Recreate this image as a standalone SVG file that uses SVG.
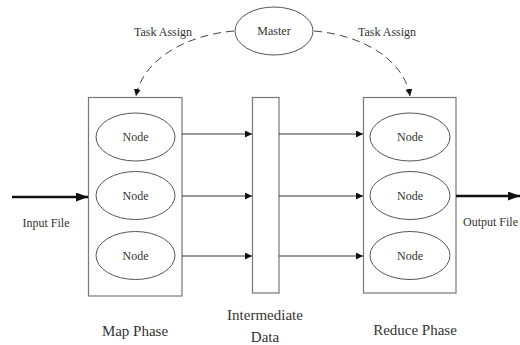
<svg xmlns="http://www.w3.org/2000/svg" width="520" height="345" viewBox="0 0 520 345">
  <defs>
    <style>
      .box { fill: #fff; stroke: #777; stroke-width: 1.2; }
      .ell { fill: #fff; stroke: #555; stroke-width: 1; }
      .t { font-family: "Liberation Serif", "Times New Roman", serif; fill: #333; text-anchor: middle; dominant-baseline: central; }
      .sm { font-size: 12px; }
      .lg { font-size: 15px; }
      .thin { stroke: #333; stroke-width: 1; fill: none; }
      .thick { stroke: #111; stroke-width: 2.6; fill: none; }
      .dash { stroke: #444; stroke-width: 1; fill: none; stroke-dasharray: 8 5; }
    </style>
    <marker id="ah" viewBox="0 0 10 10" refX="10" refY="5" markerWidth="7" markerHeight="7" markerUnits="userSpaceOnUse" orient="auto">
      <path d="M0,0 L10,5 L0,10 Z" fill="#111"/>
    </marker>
    <marker id="ahBig" viewBox="0 0 10 10" refX="10" refY="5" markerWidth="12" markerHeight="9" markerUnits="userSpaceOnUse" orient="auto" preserveAspectRatio="none">
      <path d="M0,0 L10,5 L0,10 Z" fill="#111"/>
    </marker>
  </defs>

  <rect width="520" height="345" fill="#fff"/>

  <!-- phase containers -->
  <g id="map-phase">
    <rect class="box" x="88.5" y="97.5" width="93.5" height="198.5"/>
    <text class="t lg" x="135" y="331">Map Phase</text>
  </g>
  <g id="intermediate-data">
    <rect class="box" x="252.5" y="97.5" width="26.5" height="195.5"/>
    <text class="t lg" x="265" y="315">Intermediate</text>
    <text class="t lg" x="265" y="337">Data</text>
  </g>
  <g id="reduce-phase">
    <rect class="box" x="363.5" y="97.5" width="92.5" height="195.5"/>
    <text class="t lg" x="415" y="330">Reduce Phase</text>
  </g>

  <!-- master -->
  <g id="master">
    <ellipse class="ell" cx="274" cy="31" rx="39" ry="24"/>
    <text class="t sm" x="274" y="31">Master</text>
  </g>

  <!-- map workers -->
  <g id="map-node-1">
    <ellipse class="ell" cx="135.5" cy="137" rx="39.5" ry="24"/>
    <text class="t sm" x="135.5" y="137">Node</text>
  </g>
  <g id="map-node-2">
    <ellipse class="ell" cx="135.5" cy="195.5" rx="39.5" ry="24"/>
    <text class="t sm" x="135.5" y="195.5">Node</text>
  </g>
  <g id="map-node-3">
    <ellipse class="ell" cx="135.5" cy="255.5" rx="39.5" ry="24"/>
    <text class="t sm" x="135.5" y="255.5">Node</text>
  </g>

  <!-- reduce workers -->
  <g id="reduce-node-1">
    <ellipse class="ell" cx="410" cy="137" rx="40" ry="24"/>
    <text class="t sm" x="410" y="137">Node</text>
  </g>
  <g id="reduce-node-2">
    <ellipse class="ell" cx="410" cy="195.5" rx="40" ry="24"/>
    <text class="t sm" x="410" y="195.5">Node</text>
  </g>
  <g id="reduce-node-3">
    <ellipse class="ell" cx="410" cy="255.5" rx="40" ry="24"/>
    <text class="t sm" x="410" y="255.5">Node</text>
  </g>

  <!-- connectors -->
  <g id="connectors">
    <path class="dash" d="M234,31 C185,35 143,60 136,96" marker-end="url(#ah)"/>
    <path class="dash" d="M314,31 C363,35 404,60 410,96" marker-end="url(#ah)"/>

    <line class="thin" x1="182" y1="134" x2="252" y2="134" marker-end="url(#ah)"/>
    <line class="thin" x1="182" y1="196" x2="252" y2="196" marker-end="url(#ah)"/>
    <line class="thin" x1="182" y1="256" x2="252" y2="256" marker-end="url(#ah)"/>

    <line class="thin" x1="279" y1="134" x2="363" y2="134" marker-end="url(#ah)"/>
    <line class="thin" x1="279" y1="196" x2="363" y2="196" marker-end="url(#ah)"/>
    <line class="thin" x1="279" y1="256" x2="363" y2="256" marker-end="url(#ah)"/>

    <line class="thick" x1="12" y1="197" x2="88" y2="197" marker-end="url(#ahBig)"/>
    <line class="thick" x1="456" y1="196" x2="520" y2="196" marker-end="url(#ahBig)"/>
  </g>

  <!-- edge labels -->
  <text class="t sm" x="163" y="32">Task Assign</text>
  <text class="t sm" x="387" y="32">Task Assign</text>
  <text class="t sm" x="46" y="223">Input File</text>
  <text class="t sm" x="463" y="222" textLength="55" lengthAdjust="spacingAndGlyphs" style="text-anchor:start">Output File</text>
</svg>
